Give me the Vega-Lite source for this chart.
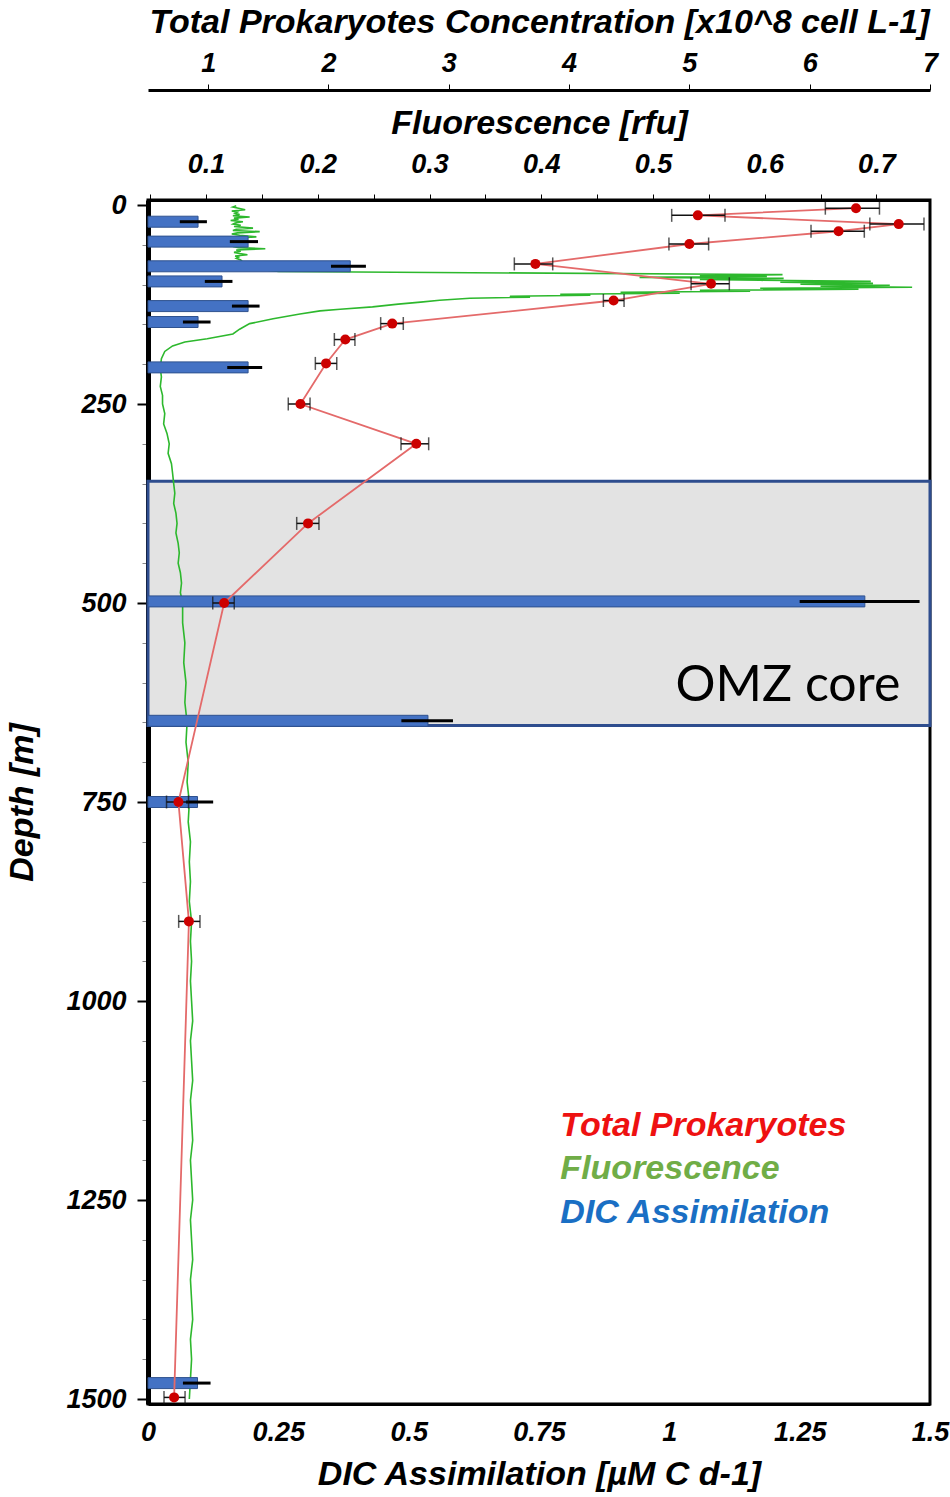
{
  "$schema": "https://vega.github.io/schema/vega-lite/v6.json",
  "width": 782,
  "height": 1204,
  "autosize": {"type": "none"},
  "padding": {"left": 148, "top": 200, "right": 20, "bottom": 93},
  "background": "white",
  "config": {
    "view": {"stroke": "black", "strokeWidth": 3},
    "axis": {
      "labelFont": "Liberation Sans",
      "labelFontWeight": "bold",
      "labelFontStyle": "italic",
      "labelFontSize": 27,
      "labelColor": "black",
      "titleFont": "Liberation Sans",
      "titleFontWeight": "bold",
      "titleFontStyle": "italic",
      "titleFontSize": 34,
      "titleColor": "black",
      "grid": false,
      "labelFlush": false,
      "labelOverlap": false,
      "domainColor": "black",
      "tickColor": "black"
    }
  },
  "datasets": {
    "omz": [{"zone": "OMZ core", "top": 347, "bottom": 654}],
    "dic": [
      {"depth": 21, "dic": 0.096, "lo": 0.061, "hi": 0.113},
      {"depth": 46, "dic": 0.192, "lo": 0.157, "hi": 0.211},
      {"depth": 77, "dic": 0.388, "lo": 0.351, "hi": 0.418},
      {"depth": 96, "dic": 0.142, "lo": 0.109, "hi": 0.162},
      {"depth": 127, "dic": 0.192, "lo": 0.161, "hi": 0.214},
      {"depth": 147, "dic": 0.096, "lo": 0.067, "hi": 0.12},
      {"depth": 204, "dic": 0.192, "lo": 0.152, "hi": 0.219},
      {"depth": 498, "dic": 1.375, "lo": 1.25, "hi": 1.48},
      {"depth": 648, "dic": 0.537, "lo": 0.486, "hi": 0.585},
      {"depth": 750, "dic": 0.095, "lo": 0.073, "hi": 0.125},
      {"depth": 1480, "dic": 0.095, "lo": 0.067, "hi": 0.12}
    ],
    "prok": [
      {"depth": 4, "cells": 6.385, "lo": 6.13, "hi": 6.58},
      {"depth": 13, "cells": 5.07, "lo": 4.853, "hi": 5.296},
      {"depth": 24, "cells": 6.74, "lo": 6.5, "hi": 6.95},
      {"depth": 33, "cells": 6.24, "lo": 6.011, "hi": 6.454},
      {"depth": 49, "cells": 5.0, "lo": 4.83, "hi": 5.16},
      {"depth": 74, "cells": 3.72, "lo": 3.545, "hi": 3.864},
      {"depth": 99, "cells": 5.18, "lo": 5.014, "hi": 5.332},
      {"depth": 120, "cells": 4.37, "lo": 4.285, "hi": 4.457},
      {"depth": 149, "cells": 2.53, "lo": 2.434, "hi": 2.622},
      {"depth": 169, "cells": 2.14, "lo": 2.049, "hi": 2.22},
      {"depth": 199, "cells": 1.98, "lo": 1.891, "hi": 2.069},
      {"depth": 250, "cells": 1.767, "lo": 1.666, "hi": 1.847},
      {"depth": 300, "cells": 2.73, "lo": 2.603, "hi": 2.833},
      {"depth": 400, "cells": 1.83, "lo": 1.736, "hi": 1.921},
      {"depth": 500, "cells": 1.133, "lo": 1.038, "hi": 1.217},
      {"depth": 750, "cells": 0.753, "lo": 0.654, "hi": 0.837},
      {"depth": 900, "cells": 0.84, "lo": 0.755, "hi": 0.932},
      {"depth": 1498, "cells": 0.717, "lo": 0.633, "hi": 0.808}
    ],
    "fluo": [
      {"depth": 1, "fluo": 0.127}, {"depth": 2.5, "fluo": 0.124}, {"depth": 4, "fluo": 0.129},
      {"depth": 6, "fluo": 0.135}, {"depth": 7.5, "fluo": 0.123}, {"depth": 9, "fluo": 0.128},
      {"depth": 10.5, "fluo": 0.126}, {"depth": 12, "fluo": 0.13}, {"depth": 13.5, "fluo": 0.124},
      {"depth": 15, "fluo": 0.139}, {"depth": 16.5, "fluo": 0.125}, {"depth": 18, "fluo": 0.129},
      {"depth": 19.5, "fluo": 0.122}, {"depth": 21, "fluo": 0.133}, {"depth": 22.5, "fluo": 0.126},
      {"depth": 24, "fluo": 0.124}, {"depth": 25.5, "fluo": 0.131}, {"depth": 27, "fluo": 0.125},
      {"depth": 29, "fluo": 0.142}, {"depth": 30.5, "fluo": 0.127}, {"depth": 32, "fluo": 0.124},
      {"depth": 33.5, "fluo": 0.148}, {"depth": 35, "fluo": 0.128}, {"depth": 36.5, "fluo": 0.123},
      {"depth": 38, "fluo": 0.13}, {"depth": 40, "fluo": 0.145}, {"depth": 41.5, "fluo": 0.126},
      {"depth": 43, "fluo": 0.129}, {"depth": 44.5, "fluo": 0.123}, {"depth": 46, "fluo": 0.128},
      {"depth": 47.5, "fluo": 0.135}, {"depth": 49, "fluo": 0.125}, {"depth": 50.5, "fluo": 0.13},
      {"depth": 52, "fluo": 0.124}, {"depth": 53.5, "fluo": 0.129}, {"depth": 55, "fluo": 0.153},
      {"depth": 56.5, "fluo": 0.127}, {"depth": 58, "fluo": 0.131}, {"depth": 59.5, "fluo": 0.125},
      {"depth": 61, "fluo": 0.13}, {"depth": 62.5, "fluo": 0.137}, {"depth": 64, "fluo": 0.126},
      {"depth": 65.5, "fluo": 0.129}, {"depth": 67, "fluo": 0.127}, {"depth": 69, "fluo": 0.131},
      {"depth": 72, "fluo": 0.133}, {"depth": 76, "fluo": 0.14}, {"depth": 80, "fluo": 0.15},
      {"depth": 82, "fluo": 0.155}, {"depth": 83.5, "fluo": 0.165}, {"depth": 87.5, "fluo": 0.616},
      {"depth": 88.4, "fluo": 0.542}, {"depth": 89.7, "fluo": 0.602}, {"depth": 90.9, "fluo": 0.488},
      {"depth": 92.2, "fluo": 0.617}, {"depth": 93.4, "fluo": 0.542}, {"depth": 94.6, "fluo": 0.596},
      {"depth": 95.9, "fluo": 0.695}, {"depth": 97.1, "fluo": 0.614}, {"depth": 98.4, "fluo": 0.697},
      {"depth": 99.6, "fluo": 0.632}, {"depth": 100.9, "fluo": 0.712}, {"depth": 102.1, "fluo": 0.65},
      {"depth": 103.4, "fluo": 0.732}, {"depth": 104.6, "fluo": 0.596}, {"depth": 105.9, "fluo": 0.684},
      {"depth": 107.1, "fluo": 0.542}, {"depth": 108.4, "fluo": 0.587}, {"depth": 109.6, "fluo": 0.471},
      {"depth": 110.8, "fluo": 0.524}, {"depth": 112.1, "fluo": 0.417}, {"depth": 113.3, "fluo": 0.444},
      {"depth": 114.6, "fluo": 0.372}, {"depth": 115.8, "fluo": 0.39}, {"depth": 117.1, "fluo": 0.336},
      {"depth": 119.6, "fluo": 0.309}, {"depth": 122, "fluo": 0.292}, {"depth": 124.5, "fluo": 0.272},
      {"depth": 128, "fluo": 0.249}, {"depth": 131, "fluo": 0.22}, {"depth": 133, "fluo": 0.202},
      {"depth": 137, "fluo": 0.184}, {"depth": 143, "fluo": 0.16}, {"depth": 149, "fluo": 0.139},
      {"depth": 156, "fluo": 0.13}, {"depth": 162, "fluo": 0.124}, {"depth": 168, "fluo": 0.101},
      {"depth": 172, "fluo": 0.081}, {"depth": 177, "fluo": 0.07}, {"depth": 184, "fluo": 0.063},
      {"depth": 193, "fluo": 0.06}, {"depth": 205, "fluo": 0.059}, {"depth": 216, "fluo": 0.06},
      {"depth": 228, "fluo": 0.059}, {"depth": 239, "fluo": 0.061}, {"depth": 250, "fluo": 0.061},
      {"depth": 262, "fluo": 0.063}, {"depth": 275, "fluo": 0.062}, {"depth": 287, "fluo": 0.065},
      {"depth": 300, "fluo": 0.067}, {"depth": 312, "fluo": 0.066}, {"depth": 325, "fluo": 0.069},
      {"depth": 337, "fluo": 0.07}, {"depth": 350, "fluo": 0.071}, {"depth": 362, "fluo": 0.072},
      {"depth": 375, "fluo": 0.071}, {"depth": 387, "fluo": 0.073}, {"depth": 400, "fluo": 0.074},
      {"depth": 412, "fluo": 0.073}, {"depth": 425, "fluo": 0.075}, {"depth": 437, "fluo": 0.076},
      {"depth": 450, "fluo": 0.075}, {"depth": 462, "fluo": 0.077}, {"depth": 475, "fluo": 0.078},
      {"depth": 487, "fluo": 0.077}, {"depth": 500, "fluo": 0.079}, {"depth": 525, "fluo": 0.079},
      {"depth": 550, "fluo": 0.081}, {"depth": 575, "fluo": 0.08}, {"depth": 600, "fluo": 0.082},
      {"depth": 625, "fluo": 0.081}, {"depth": 650, "fluo": 0.083}, {"depth": 675, "fluo": 0.082},
      {"depth": 700, "fluo": 0.084}, {"depth": 725, "fluo": 0.083}, {"depth": 750, "fluo": 0.085},
      {"depth": 775, "fluo": 0.084}, {"depth": 800, "fluo": 0.086}, {"depth": 825, "fluo": 0.085},
      {"depth": 850, "fluo": 0.086}, {"depth": 875, "fluo": 0.085}, {"depth": 900, "fluo": 0.087},
      {"depth": 925, "fluo": 0.086}, {"depth": 950, "fluo": 0.087}, {"depth": 975, "fluo": 0.086},
      {"depth": 1000, "fluo": 0.087}, {"depth": 1025, "fluo": 0.088}, {"depth": 1050, "fluo": 0.086},
      {"depth": 1075, "fluo": 0.087}, {"depth": 1100, "fluo": 0.088}, {"depth": 1125, "fluo": 0.086},
      {"depth": 1150, "fluo": 0.087}, {"depth": 1175, "fluo": 0.088}, {"depth": 1200, "fluo": 0.086},
      {"depth": 1225, "fluo": 0.087}, {"depth": 1250, "fluo": 0.088}, {"depth": 1275, "fluo": 0.086},
      {"depth": 1300, "fluo": 0.087}, {"depth": 1325, "fluo": 0.088}, {"depth": 1350, "fluo": 0.086},
      {"depth": 1375, "fluo": 0.087}, {"depth": 1400, "fluo": 0.088}, {"depth": 1425, "fluo": 0.086},
      {"depth": 1450, "fluo": 0.087}, {"depth": 1475, "fluo": 0.086}, {"depth": 1500, "fluo": 0.085}
    ]
  },
  "layer": [
    {
      "data": {"name": "omz"},
      "mark": {"type": "rect", "fill": "#e3e3e3", "stroke": "#2e4d8e", "strokeWidth": 3},
      "encoding": {
        "x": {"datum": 0, "type": "quantitative", "scale": {"domain": [0, 1.5], "nice": false}, "axis": null},
        "x2": {"datum": 1.5},
        "y": {
          "field": "top",
          "type": "quantitative",
          "scale": {"domain": [0, 1500], "reverse": true, "nice": false, "zero": false},
          "axis": {
            "title": "Depth [m]",
            "values": [0, 50, 100, 150, 200, 250, 300, 350, 400, 450, 500, 550, 600, 650, 700, 750, 800, 850, 900, 950, 1000, 1050, 1100, 1150, 1200, 1250, 1300, 1350, 1400, 1450, 1500],
            "labelExpr": "datum.value % 250 === 0 ? datum.value : ''",
            "tickSize": {"condition": {"test": "datum.value % 250 === 0", "value": 11}, "value": 6},
            "tickColor": {"condition": {"test": "datum.value % 250 === 0", "value": "black"}, "value": "#888888"},
            "tickWidth": {"condition": {"test": "datum.value % 250 === 0", "value": 2}, "value": 1},
            "labelPadding": 11,
            "titlePadding": 26,
            "domainWidth": 5
          }
        },
        "y2": {"field": "bottom"}
      }
    },
    {
      "data": {"name": "fluo"},
      "mark": {"type": "line", "color": "#2db82d", "strokeWidth": 1.6},
      "encoding": {
        "x": {
          "field": "fluo",
          "type": "quantitative",
          "scale": {"domain": [0.048, 0.748], "nice": false, "zero": false},
          "axis": {
            "orient": "top",
            "title": "Fluorescence [rfu]",
            "values": [0.05, 0.1, 0.15, 0.2, 0.25, 0.3, 0.35, 0.4, 0.45, 0.5, 0.55, 0.6, 0.65, 0.7],
            "labelExpr": "round(datum.value * 100) % 10 === 0 ? format(datum.value, '.1f') : ''",
            "tickSize": 6,
            "labelPadding": 16,
            "titlePadding": 10,
            "domainWidth": 3
          }
        },
        "y": {"field": "depth", "type": "quantitative"},
        "order": {"field": "depth", "type": "quantitative"}
      }
    },
    {
      "data": {"name": "dic"},
      "layer": [
        {
          "mark": {"type": "bar", "orient": "horizontal", "size": 11, "fill": "#4472c4", "stroke": "#2f528f", "strokeWidth": 1},
          "encoding": {
            "x": {
              "field": "dic",
              "type": "quantitative",
              "scale": {"domain": [0, 1.5], "nice": false},
              "axis": {
                "orient": "bottom",
                "title": "DIC Assimilation [µM C d-1]",
                "values": [0, 0.25, 0.5, 0.75, 1, 1.25, 1.5],
                "labelExpr": "datum.value + ''",
                "ticks": false,
                "labelPadding": 15,
                "titlePadding": 12,
                "domainWidth": 3
              }
            },
            "y": {"field": "depth", "type": "quantitative"}
          }
        },
        {
          "mark": {"type": "rule", "color": "black", "strokeWidth": 3},
          "encoding": {
            "x": {"field": "lo", "type": "quantitative"},
            "x2": {"field": "hi"},
            "y": {"field": "depth", "type": "quantitative"}
          }
        },
        {
          "data": {"values": [{}]},
          "mark": {"type": "text", "text": "OMZ core", "font": "Lato", "fontSize": 50, "color": "black", "align": "right", "baseline": "alphabetic"},
          "encoding": {"x": {"datum": 1.443}, "y": {"datum": 623}}
        },
        {
          "data": {"values": [{}]},
          "mark": {"type": "text", "text": "Total Prokaryotes", "font": "Liberation Sans", "fontSize": 34, "fontWeight": "bold", "fontStyle": "italic", "color": "#ee1111", "align": "left", "baseline": "alphabetic"},
          "encoding": {"x": {"datum": 0.791}, "y": {"datum": 1169}}
        },
        {
          "data": {"values": [{}]},
          "mark": {"type": "text", "text": "Fluorescence", "font": "Liberation Sans", "fontSize": 34, "fontWeight": "bold", "fontStyle": "italic", "color": "#70ad47", "align": "left", "baseline": "alphabetic"},
          "encoding": {"x": {"datum": 0.791}, "y": {"datum": 1224}}
        },
        {
          "data": {"values": [{}]},
          "mark": {"type": "text", "text": "DIC Assimilation", "font": "Liberation Sans", "fontSize": 34, "fontWeight": "bold", "fontStyle": "italic", "color": "#1a6fc4", "align": "left", "baseline": "alphabetic"},
          "encoding": {"x": {"datum": 0.791}, "y": {"datum": 1279}}
        }
      ]
    },
    {
      "data": {"name": "prok"},
      "layer": [
        {
          "mark": {"type": "line", "color": "#e46a6a", "strokeWidth": 1.8},
          "encoding": {
            "x": {
              "field": "cells",
              "type": "quantitative",
              "scale": {"domain": [0.5, 7], "nice": false, "zero": false},
              "axis": {
                "orient": "top",
                "offset": 110,
                "title": "Total Prokaryotes Concentration [x10^8 cell L-1]",
                "titleFontSize": 34,
                "values": [1, 2, 3, 4, 5, 6, 7],
                "labelExpr": "datum.value + ''",
                "tickSize": 6,
                "labelPadding": 7,
                "titlePadding": 10,
                "domainWidth": 3
              }
            },
            "y": {"field": "depth", "type": "quantitative"},
            "order": {"field": "depth", "type": "quantitative"}
          }
        },
        {
          "mark": {"type": "rule", "color": "#111111", "strokeWidth": 1.5},
          "encoding": {
            "x": {"field": "lo", "type": "quantitative"},
            "x2": {"field": "hi"},
            "y": {"field": "depth", "type": "quantitative"}
          }
        },
        {
          "mark": {"type": "tick", "orient": "vertical", "color": "#111111", "size": 13, "thickness": 1.5},
          "encoding": {
            "x": {"field": "lo", "type": "quantitative"},
            "y": {"field": "depth", "type": "quantitative"}
          }
        },
        {
          "mark": {"type": "tick", "orient": "vertical", "color": "#111111", "size": 13, "thickness": 1.5},
          "encoding": {
            "x": {"field": "hi", "type": "quantitative"},
            "y": {"field": "depth", "type": "quantitative"}
          }
        },
        {
          "mark": {"type": "circle", "color": "#cc0000", "opacity": 1, "size": 100},
          "encoding": {
            "x": {"field": "cells", "type": "quantitative"},
            "y": {"field": "depth", "type": "quantitative"}
          }
        }
      ]
    }
  ],
  "resolve": {"scale": {"x": "independent"}, "axis": {"x": "independent"}}
}
